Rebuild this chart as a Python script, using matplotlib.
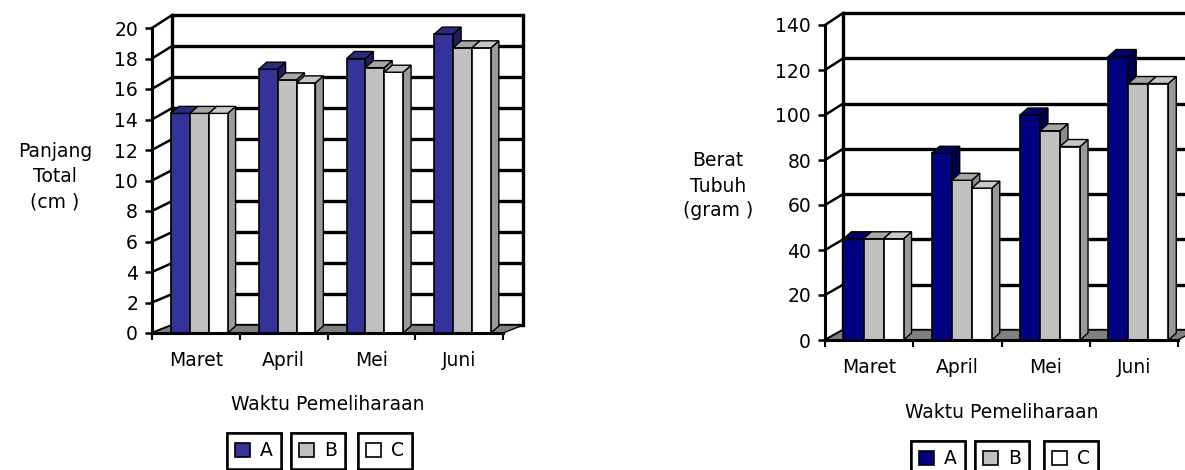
import matplotlib as mpl
mpl.use('Agg')
import matplotlib.pyplot as plt
from matplotlib.patches import Polygon

months = ['Maret', 'April', 'Mei', 'Juni']
series_names = ['A', 'B', 'C']

# Panjang Total (cm)
panjang_a = [14.4, 17.3, 18.0, 19.6]
panjang_b = [14.4, 16.6, 17.4, 18.7]
panjang_c = [14.4, 16.4, 17.1, 18.7]
panjang_ticks = list(range(0, 21, 2))

# Berat Tubuh (gram)
berat_a = [45, 83, 100, 126]
berat_b = [45, 71, 93, 114]
berat_c = [45, 67.5, 86, 114]
berat_ticks = list(range(0, 141, 20))

plt.rcParams['font.family'] = ['DejaVu Sans']
FS = 13.5


def shade(ax, pts, colour, z):
    ax.add_patch(Polygon(pts, closed=True, facecolor=colour, edgecolor='black',
                         linewidth=1.0, zorder=z, clip_on=False))


def draw_chart(ax, values, colours, ticks, ymax, back_dx, back_k, back_d,
               bar_w, shift, depth_dx, depth_dy):
    n = len(months)
    x0, x1 = -0.5, n - 0.5
    ax.set_xlim(x0, x1)
    ax.set_ylim(0, ymax)

    def back(v):
        return v * back_k + back_d

    # back wall gridlines
    for v in ticks:
        ax.plot([x0 + back_dx, x1 + back_dx], [back(v), back(v)], color='black',
                lw=2.4, zorder=1, clip_on=False, solid_capstyle='butt')
        ax.plot([x0, x0 + back_dx], [v, back(v)], color='black', lw=1.8,
                zorder=1, clip_on=False)
    for xe in (x0 + back_dx, x1 + back_dx):
        ax.plot([xe, xe], [back(0), back(ymax)], color='black', lw=2.4,
                zorder=1, clip_on=False)

    # floor
    shade(ax, [(x0, 0), (x1, 0), (x1 + back_dx, back(0)), (x0 + back_dx, back(0))],
          '#808080', 1.5)

    containers = []
    for i, (vals, (front, top, side)) in enumerate(zip(values, colours)):
        pos = [k + shift + (i - 1) * bar_w for k in range(n)]
        bars = ax.bar(pos, vals, width=bar_w, color=front, edgecolor='black',
                      linewidth=1.2, zorder=4 + i * 3, label=series_names[i])
        containers.append(bars)
        for p, v in zip(pos, vals):
            l, r = p - bar_w / 2, p + bar_w / 2
            shade(ax, [(r, 0), (r, v), (r + depth_dx, v + depth_dy),
                       (r + depth_dx, depth_dy)], side, 3 + i * 3)
            shade(ax, [(l, v), (r, v), (r + depth_dx, v + depth_dy),
                       (l + depth_dx, v + depth_dy)], top, 5 + i * 3)

    for s in ('top', 'right'):
        ax.spines[s].set_visible(False)
    for s in ('left', 'bottom'):
        ax.spines[s].set_linewidth(2.2)
        ax.spines[s].set_zorder(20)
    ax.set_facecolor('none')
    ax.set_yticks(ticks)
    ax.tick_params(axis='y', direction='out', length=5, width=1.8,
                   labelsize=FS, pad=5)
    ax.set_xticks([k - 0.5 for k in range(n + 1)])
    ax.set_xticklabels([])
    ax.set_xticks(range(n), minor=True)
    ax.set_xticklabels(months, minor=True, fontsize=FS)
    ax.tick_params(axis='x', which='major', direction='out', length=5,
                   width=1.5)
    ax.tick_params(axis='x', which='minor', length=0, pad=13)
    return containers


fig = plt.figure(figsize=(11.85, 4.7), dpi=100)

W, H = 1185.0, 470.0
ax1 = fig.add_axes([152 / W, 1 - 333 / H, 351 / W, 305 / H])
ax2 = fig.add_axes([825 / W, 1 - 340 / H, 353 / W, 315 / H])

left_colours = [('#333399', '#2a2a80', '#1f1f5c'),
                ('#c0c0c0', '#a6a6a6', '#8c8c8c'),
                ('#ffffff', '#c8c8c8', '#9a9a9a')]
right_colours = [('#000080', '#000070', '#000050'),
                 ('#c0c0c0', '#a6a6a6', '#8c8c8c'),
                 ('#ffffff', '#c8c8c8', '#9a9a9a')]

c1 = draw_chart(ax1, [panjang_a, panjang_b, panjang_c], left_colours,
                panjang_ticks, 20, 0.23, 1.0165, 0.52, 0.215, 0.04, 0.09, 0.46)
c2 = draw_chart(ax2, [berat_a, berat_b, berat_c], right_colours,
                berat_ticks, 140, 0.204, 1.006, 4.44, 0.227, 0.05, 0.09, 3.1)

fig.text(55 / W, 1 - 177 / H, 'Panjang\nTotal\n(cm )', ha='center',
         va='center', fontsize=FS, linespacing=1.4)
fig.text(718 / W, 1 - 186 / H, 'Berat\nTubuh\n(gram )', ha='center',
         va='center', fontsize=FS, linespacing=1.4)
fig.text(328 / W, 1 - 405 / H, 'Waktu Pemeliharaan', ha='center',
         va='center', fontsize=FS)
fig.text(1002 / W, 1 - 412 / H, 'Waktu Pemeliharaan', ha='center',
         va='center', fontsize=FS)

# one framed legend box per series, as in the original
for containers, xs, yc in ((c1, (254, 318, 385), 451),
                           (c2, (938, 1002, 1071), 459)):
    for bars, xc in zip(containers, xs):
        leg = fig.legend([bars], [bars.get_label()], loc='center',
                         bbox_to_anchor=(xc / W, 1 - yc / H), fontsize=FS,
                         handlelength=0.8, handleheight=0.8, handletextpad=0.5,
                         borderpad=0.45, borderaxespad=0, fancybox=False,
                         edgecolor='black', framealpha=1)
        leg.get_frame().set_linewidth(1.8)
        fig.add_artist(leg)

fig.savefig('out.png', dpi=100)
plt.close()
